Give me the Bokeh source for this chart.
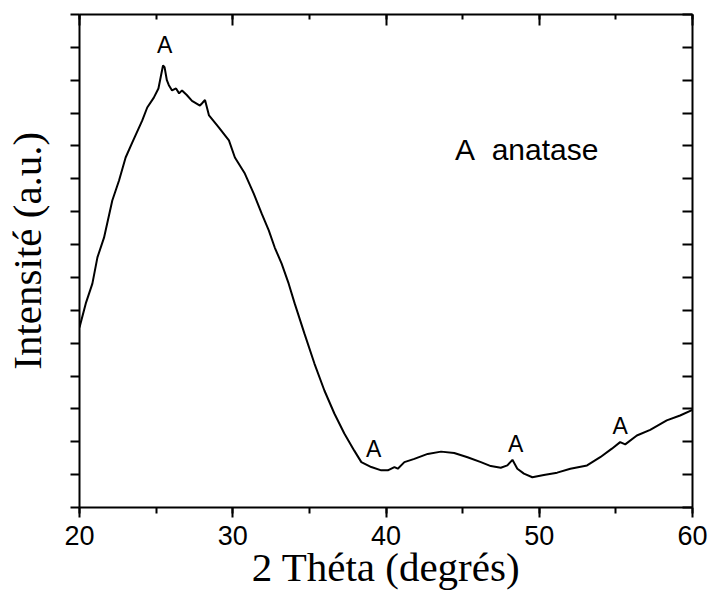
from bokeh.plotting import figure
from bokeh.models import LinearAxis, Range1d, SingleIntervalTicker
from bokeh.embed import file_html
from bokeh.resources import INLINE
from bokeh.core.properties import value

# XRD pattern (2 theta in degrees, intensity in arbitrary units)
two_theta = [20.0, 20.41, 20.84, 21.17, 21.6, 22.14, 22.58, 23.01, 23.44, 24.09,
             24.42, 24.85, 25.15, 25.3, 25.45, 25.55, 25.7, 25.83, 26.04, 26.3,
             26.5, 26.69, 27.0, 27.34, 27.86, 28.0, 28.19, 28.45, 29.1, 29.75,
             30.14, 30.79, 31.37, 31.89, 32.35, 32.74, 33.19, 33.65, 34.04, 34.68,
             35.33, 35.98, 36.63, 37.28, 37.93,
             38.39, 39.04, 39.69, 40.12, 40.55, 40.77, 41.2, 41.85, 42.72, 43.59,
             44.45, 45.32, 46.19, 46.84, 47.49, 47.92, 48.25, 48.57, 49.0, 49.55,
             50.3, 51.17, 52.03, 53.12, 53.98, 54.74, 55.28, 55.61, 56.37, 57.24,
             58.32, 59.19, 60.0]
intensity = [5.48, 6.21, 6.81, 7.61, 8.21, 9.34, 9.95, 10.65, 11.10, 11.77,
             12.17, 12.47, 12.75, 13.1, 13.45, 13.4, 13.0, 12.85, 12.69, 12.75,
             12.6, 12.69, 12.55, 12.37, 12.23, 12.3, 12.4, 11.93, 11.56, 11.17,
             10.65, 10.16, 9.55, 8.94, 8.43, 7.91, 7.42, 6.81, 6.21, 5.29,
             4.38, 3.56, 2.86, 2.25, 1.73,
             1.38, 1.23, 1.13, 1.13, 1.23, 1.18, 1.38, 1.48, 1.63, 1.70,
             1.66, 1.53, 1.38, 1.26, 1.21, 1.28, 1.45, 1.18, 1.03, 0.92,
             0.99, 1.06, 1.18, 1.28, 1.53, 1.79, 1.99, 1.92, 2.19, 2.36,
             2.65, 2.80, 2.97]

# anatase peak markers
peak_x = [25.56, 39.2, 48.46, 55.28]
peak_y = [14.07, 1.78, 1.93, 2.48]
peak_labels = ["A", "A", "A", "A"]

legend_x = [44.5]
legend_y = [10.89]
legend_text = ["A\u00a0\u00a0anatase"]

x_title = "2 Théta (degrés)"
y_title = "\u00a0\u00a0Intensité (a.u.)"

assert len(two_theta) == len(intensity)

p = figure(width=712, height=596, x_range=Range1d(20, 60), y_range=Range1d(0, 15),
           output_backend="svg", toolbar_location=None,
           x_axis_location=None, y_axis_location=None,
           min_border_left=77, min_border_right=20, min_border_top=14, min_border_bottom=89)
p.outline_line_color = None
p.xgrid.visible = False
p.ygrid.visible = False
p.background_fill_color = "white"
p.border_fill_color = "white"


def make_axis(ticker, major_in, major_out, minor_in, minor_out, labels):
    ax = LinearAxis(ticker=ticker)
    ax.axis_line_width = 2
    ax.axis_line_color = "black"
    ax.major_tick_line_width = 2
    ax.minor_tick_line_width = 2
    ax.major_tick_in = major_in
    ax.major_tick_out = major_out
    ax.minor_tick_in = minor_in
    ax.minor_tick_out = minor_out
    if labels:
        ax.major_label_text_font = "Liberation Sans"
        ax.major_label_text_font_size = "27px"
        ax.major_label_text_color = "black"
        ax.major_label_standoff = 8
    else:
        ax.major_label_text_font_size = "1px"
        ax.major_label_text_color = None
        ax.major_label_standoff = 0
    return ax


bottom = make_axis(SingleIntervalTicker(interval=10, num_minor_ticks=2), 0, 10, 0, 6, True)
bottom.axis_label = x_title
bottom.axis_label_text_font = "Liberation Serif"
bottom.axis_label_text_font_size = "41px"
bottom.axis_label_text_font_style = "normal"
bottom.axis_label_text_color = "black"
bottom.axis_label_standoff = -4
p.add_layout(bottom, "below")

top = make_axis(SingleIntervalTicker(interval=10, num_minor_ticks=2), 11, 0, 5, 0, False)
p.add_layout(top, "above")

left = make_axis(SingleIntervalTicker(interval=1, num_minor_ticks=0), 0, 9, 0, 0, False)
left.axis_label = y_title
left.axis_label_text_font = "Liberation Serif"
left.axis_label_text_font_size = "41px"
left.axis_label_text_font_style = "normal"
left.axis_label_text_color = "black"
left.axis_label_standoff = 21
p.add_layout(left, "left")

right = make_axis(SingleIntervalTicker(interval=1, num_minor_ticks=0), 10, 0, 0, 0, False)
p.add_layout(right, "right")

p.line(two_theta, intensity, line_color="black", line_width=2)

p.text(x=peak_x, y=peak_y, text=peak_labels, text_font=value("Liberation Sans"),
       text_font_size=value("23px"), text_align="center", text_baseline="alphabetic",
       text_color="black")

p.text(x=legend_x, y=legend_y, text=legend_text, text_font=value("Liberation Sans"),
       text_font_size=value("30px"), text_align="left", text_baseline="alphabetic",
       text_color="black")

open("out.html", "w").write(file_html(p, INLINE))
